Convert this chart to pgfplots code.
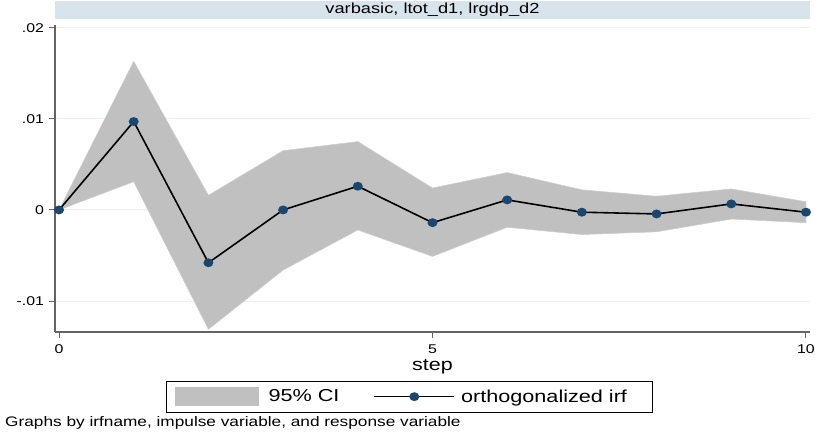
\documentclass[border=0pt]{standalone}
\usepackage{fontspec}
\setmainfont[FakeStretch=1.25]{Liberation Sans}
\usepackage{pgfplots}
\pgfplotsset{compat=1.18}
\definecolor{navy}{RGB}{26,71,111}
\definecolor{cigray}{RGB}{192,192,192}
\definecolor{ciedge}{RGB}{205,205,205}
\definecolor{titlebg}{RGB}{215,228,235}
\definecolor{gridc}{RGB}{232,240,242}
\definecolor{axisc}{RGB}{100,100,100}
\pgfplotsset{
 irflegend/.style={legend image code/.code={\draw[##1, line width=1.6pt, mark repeat=2, mark phase=2] plot coordinates {(0pt,0pt) (40pt,0pt) (80pt,0pt)};}},
 cilegend/.style={legend image code/.code={\fill[cigray] (0pt,-9pt) rectangle (83pt,9pt);}},
}
\begin{document}
\begin{tikzpicture}
\useasboundingbox (-55pt,-103pt) rectangle (760pt,332pt);
\begin{axis}[
 at={(0pt,0pt)}, anchor=south west,
 scale only axis, width=755pt, height=307pt,
 xmin=-0.054, xmax=10.054, ymin=-0.0134, ymax=0.0203,
 axis x line*=bottom, axis y line*=left,
 axis line style={-, axisc, line width=1.2pt},
 xtick={0,5,10}, xticklabels={0,5,10},
 ytick={-0.01,0,0.01,0.02}, yticklabels={-.01,0,.01,.02},
 tick align=outside, major tick length=6pt, tick style={axisc, line width=1pt},
 ymajorgrids, major grid style={gridc, line width=0.9pt},
 /pgf/number format/assume math mode=true,
 ticklabel style={font=\fontsize{12.7}{15}\selectfont},
 xticklabel style={yshift=-3pt},
 yticklabel style={xshift=-1.5pt},
 xlabel={step},
 xlabel style={font=\fontsize{17.2}{20}\selectfont, at={(axis description cs:0.5,0)}, anchor=center, yshift=-35pt},
 title={varbasic, ltot\_d1, lrgdp\_d2},
 title style={at={(axis description cs:0.5,1)}, anchor=south, fill=titlebg, minimum width=755pt, minimum height=18pt, inner sep=0pt, font=\fontsize{14.6}{16}\selectfont},
 clip=false,
 legend style={at={(axis description cs:0.4689,-0.2107)}, anchor=center, draw=black,
   font=\fontsize{17.3}{20}\selectfont, inner xsep=9pt, inner ysep=6pt, nodes={inner sep=0pt}},
 legend columns=2,
 legend cell align=left,
]
\addplot[fill=cigray, draw=ciedge, line width=0.6pt, cilegend]
 coordinates {(0,0) (1,0.0163) (2,0.0016) (3,0.0065) (4,0.0075) (5,0.0024) (6,0.0041) (7,0.0022) (8,0.0015) (9,0.0023) (10,0.0009)
  (10,-0.0014) (9,-0.0010) (8,-0.0024) (7,-0.0027) (6,-0.0019) (5,-0.0051) (4,-0.0022) (3,-0.0066) (2,-0.0131) (1,0.0031) (0,0)} -- cycle;
\addlegendentry{\kern10pt 95\% CI\kern34pt\relax}
\addplot[black, line width=1.6pt, mark=*, mark size=3.6pt, mark options={fill=navy, draw=navy, xscale=1.15}, irflegend]
 coordinates {(0,0) (1,0.0097) (2,-0.0058) (3,0.0000) (4,0.0026) (5,-0.0014) (6,0.0011) (7,-0.00025) (8,-0.00044) (9,0.00066) (10,-0.00025)};
\addlegendentry{\kern6pt orthogonalized irf\kern16pt\relax}
\end{axis}
\node[anchor=base west, font=\fontsize{13.8}{16}\selectfont, inner sep=0pt] at (-50pt,-95pt) {Graphs by irfname, impulse variable, and response variable};
\end{tikzpicture}
\end{document}
